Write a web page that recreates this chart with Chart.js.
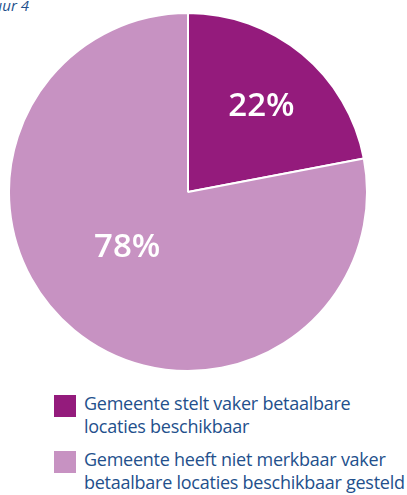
<!DOCTYPE html>
<html>
<head>
<meta charset="utf-8">
<script src="https://cdn.jsdelivr.net/npm/chart.js@4/dist/chart.umd.min.js"></script>
<style>
  html, body { margin: 0; padding: 0; background: #fff; }
  body { width: 407px; height: 495px; position: relative; overflow: hidden; font-family: 'Open Sans', 'Noto Sans', sans-serif; }
  #figTitle { position: absolute; right: 378px; top: -7px; white-space: nowrap; font-style: italic; font-size: 15px; line-height: 24px; color: #23508c; }
  #pieWrap { position: absolute; left: 8px; top: 11.5px; width: 360px; height: 360px; }
  #legend { position: absolute; left: 54px; top: 394px; width: 360px; }
  .legend-item { display: flex; align-items: flex-start; margin-bottom: 13px; }
  .legend-box { width: 22px; height: 22px; flex: none; margin-top: 1px; }
  .legend-text { margin-left: 8px; font-size: 18px; line-height: 22.5px; color: #23508c; letter-spacing: -0.25px; white-space: nowrap; margin-top: -2px; }
</style>
</head>
<body>
<div id="figTitle">Figuur 4</div>
<div id="pieWrap"><canvas id="pieChart"></canvas></div>
<div id="legend"></div>
<script>
const categories = [
  ['Gemeente stelt vaker betaalbare', 'locaties beschikbaar'],
  ['Gemeente heeft niet merkbaar vaker', 'betaalbare locaties beschikbaar gesteld']
];
const shares = [22, 78];
const sliceColors = ['#941b7c', '#c792c2'];

// label placement per slice: fraction of radius, angle nudge in degrees
const labelPlacement = [
  { r: 0.63, shift: 1 },
  { r: 0.46, shift: 8 }
];

const percentLabels = {
  id: 'percentLabels',
  afterDatasetsDraw(chart) {
    const ctx = chart.ctx;
    const meta = chart.getDatasetMeta(0);
    ctx.save();
    ctx.fillStyle = '#ffffff';
    ctx.font = '600 33px "Open Sans", "Noto Sans", sans-serif';
    ctx.textAlign = 'center';
    ctx.textBaseline = 'middle';
    meta.data.forEach((arc, i) => {
      const p = arc.getProps(['x', 'y', 'startAngle', 'endAngle', 'outerRadius'], true);
      const place = labelPlacement[i] || { r: 0.5, shift: 0 };
      const mid = (p.startAngle + p.endAngle) / 2 + place.shift * Math.PI / 180;
      const dist = p.outerRadius * place.r;
      ctx.fillText(`${shares[i]}%`, p.x + Math.cos(mid) * dist, p.y + Math.sin(mid) * dist);
    });
    ctx.restore();
  }
};

new Chart(document.getElementById('pieChart').getContext('2d'), {
  type: 'pie',
  data: {
    labels: categories,
    datasets: [{
      data: shares,
      backgroundColor: sliceColors,
      borderColor: '#ffffff',
      borderWidth: 2,
      hoverOffset: 0,
      offset: 0
    }]
  },
  options: {
    responsive: true,
    maintainAspectRatio: false,
    animation: false,
    layout: { padding: 0 },
    plugins: {
      legend: { display: false },
      tooltip: { enabled: false }
    }
  },
  plugins: [percentLabels]
});

const legendEl = document.getElementById('legend');
categories.forEach((lines, i) => {
  const item = document.createElement('div');
  item.className = 'legend-item';
  const box = document.createElement('div');
  box.className = 'legend-box';
  box.style.background = sliceColors[i];
  const text = document.createElement('div');
  text.className = 'legend-text';
  lines.forEach(line => {
    const row = document.createElement('div');
    row.textContent = line;
    text.appendChild(row);
  });
  item.appendChild(box);
  item.appendChild(text);
  legendEl.appendChild(item);
});
</script>
</body>
</html>
